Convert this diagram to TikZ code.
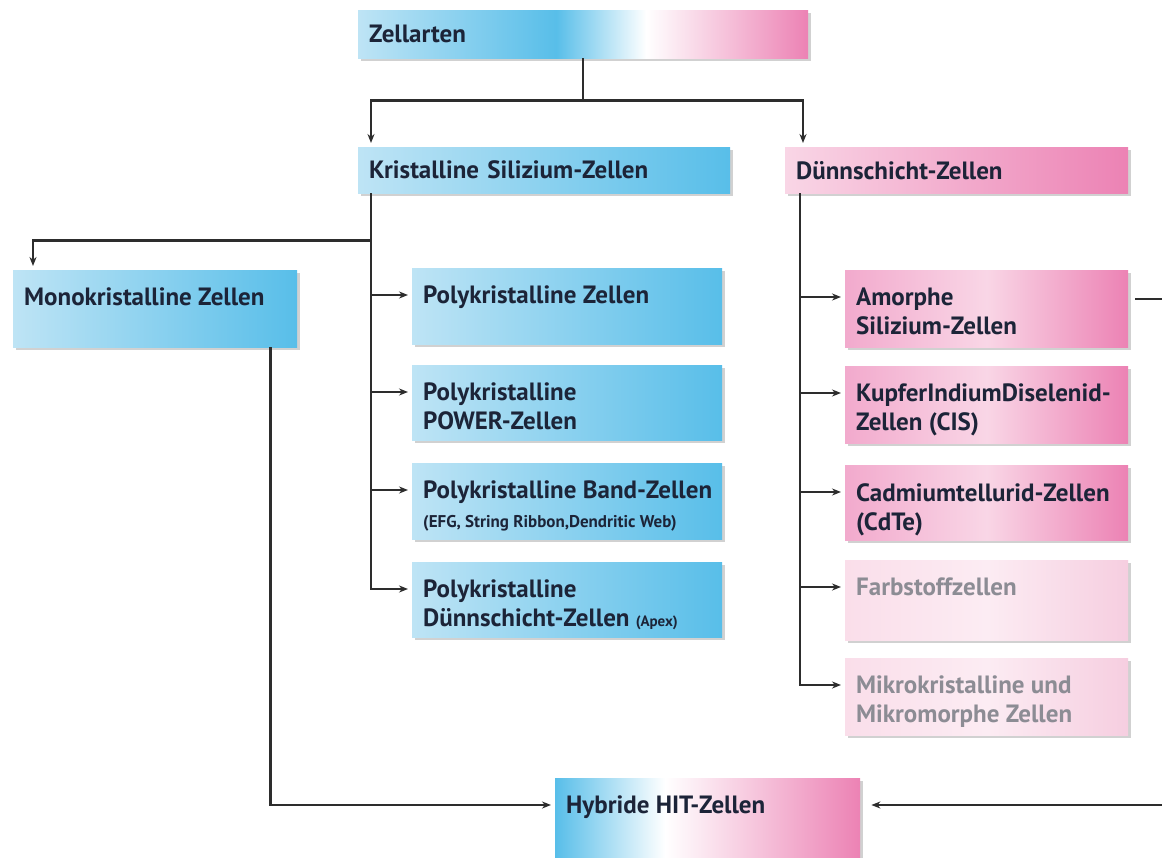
\documentclass[tikz,border=0pt]{standalone}
\usepackage{fontspec}
\setmainfont{PT Sans}
\usetikzlibrary{positioning, shadows, arrows.meta}

\definecolor{blueD}{RGB}{88,190,233}
\definecolor{blueL}{RGB}{190,228,245}
\definecolor{pinkD}{RGB}{236,130,180}
\definecolor{pinkM}{RGB}{242,170,205}
\definecolor{pinkL}{RGB}{249,214,230}
\definecolor{pinkF}{RGB}{250,222,234}
\definecolor{pinkG}{RGB}{246,206,224}
\definecolor{pinkH}{RGB}{252,236,243}
\definecolor{ink}{RGB}{28,36,56}
\definecolor{fade}{RGB}{140,140,148}
\definecolor{wirec}{RGB}{45,45,45}

% the path is mapped onto the 25bp--75bp part of a shading
\pgfdeclarehorizontalshading{zellshade}{100bp}{color(0bp)=(blueL); color(25bp)=(blueL); color(47bp)=(blueD); color(57bp)=(white); color(75bp)=(pinkD); color(100bp)=(pinkD)}
\pgfdeclarehorizontalshading{hitshade}{100bp}{color(0bp)=(blueD); color(25bp)=(blueD); color(43bp)=(white); color(75bp)=(pinkD); color(100bp)=(pinkD)}

\newcommand{\celltop}[3]{\parbox[t][#2][t]{#1}{\raggedright #3}}

\begin{document}
\begin{tikzpicture}[
        x=1pt, y=-1pt,
        >={Stealth[length=9pt,width=7pt]},
        wire/.style={draw=wirec, line width=2.4pt},
        cell/.style={anchor=north west, inner xsep=11pt, inner ysep=18pt, text=ink,
            font=\bfseries\fontsize{25}{29}\selectfont,
            drop shadow={shadow xshift=2.5pt, shadow yshift=-2.5pt, opacity=.4, fill=black!45}},
        onecell/.style={inner ysep=2pt, align=left},
        headcell/.style={cell, onecell, shading=zellshade},
        bluecell/.style={cell, left color=blueL, right color=blueD},
        pinkcell/.style={cell, left color=pinkM, right color=pinkD, middle color=pinkL},
        fadecell/.style={cell, text=fade, left color=pinkF, right color=pinkG, middle color=pinkH}]

        \useasboundingbox (0,0) rectangle (1162,858);
        \fill[white] (0,0) rectangle (1162,858);
        \clip (0,0) rectangle (1162,858);

        % top level
        \node[headcell, text width=428pt, minimum height=48pt] (zell) at (358,10) {Zellarten};
        \node[bluecell, onecell, text width=350pt, minimum height=46pt] (kris) at (358,147) {Kristalline Silizium-Zellen};
        \node[pinkcell, onecell, left color=pinkL, right color=pinkD, text width=321pt, minimum height=46pt] (thin) at (785,147) {Dünnschicht-Zellen};

        % crystalline
        \node[bluecell] (mono) at (13,270) {\celltop{262pt}{41pt}{Monokristalline Zellen}};
        \node[bluecell] (p1) at (412,268) {\celltop{288pt}{40pt}{Polykristalline Zellen}};
        \node[bluecell] (p2) at (412,365) {\celltop{288pt}{39pt}{Polykristalline\\POWER-Zellen}};
        \node[bluecell] (p3) at (412,463) {\celltop{288pt}{40pt}{\mbox{Polykristalline Band-Zellen}\\{\fontsize{17}{20}\selectfont (EFG, String Ribbon,Dendritic Web)}}};
        \node[bluecell] (p4) at (412,562) {\celltop{288pt}{39pt}{Polykristalline\\Dünnschicht-Zellen {\fontsize{15}{16}\selectfont (Apex)}}};

        % thin film
        \node[pinkcell] (amo) at (845,270) {\celltop{261pt}{41pt}{Amorphe\\Silizium-Zellen}};
        \node[pinkcell] (cis) at (845,366) {\celltop{261pt}{41pt}{KupferIndiumDiselenid-\\Zellen (CIS)}};
        \node[pinkcell] (cdte) at (845,465) {\celltop{261pt}{39pt}{Cadmiumtellurid-Zellen\\(CdTe)}};
        \node[fadecell] (dye) at (845,560) {\celltop{261pt}{44pt}{Farbstoffzellen}};
        \node[fadecell] (micro) at (845,658) {\celltop{261pt}{41pt}{Mikrokristalline und\\Mikromorphe Zellen}};

        \node[cell, shading=hitshade] (hyb) at (555,778) {\celltop{283pt}{60pt}{Hybride HIT-Zellen}};

        % connectors
        \draw[wire] (zell.south) -- ++(0,42) coordinate (zj);
        \draw[wire,->,shorten >=4pt] (zj) -| ([xshift=13pt]kris.north west);
        \draw[wire,->,shorten >=4pt] (zj) -| ([xshift=18pt]thin.north west);

        \coordinate (ks) at ([xshift=13pt]kris.south west);
        \draw[wire,->,shorten >=4pt] ([yshift=-47pt]ks) -| ([xshift=20pt]mono.north west);
        \foreach \n in {p1,p2,p3,p4}
            \coordinate (\n-in) at ([yshift=-27pt]\n.north west);
        \foreach \n in {p1,p2,p3}
            \draw[wire,->,shorten >=4pt] (ks |- \n-in) -- (\n-in);
        \draw[wire,->,shorten >=4pt] (ks) |- (p4-in);

        \coordinate (ds) at ([xshift=15pt]thin.south west);
        \foreach \n in {amo,cis,cdte,dye,micro}
            \coordinate (\n-in) at ([yshift=-27pt]\n.north west);
        \foreach \n in {amo,cis,cdte,dye}
            \draw[wire,->,shorten >=4pt] (ds |- \n-in) -- (\n-in);
        \draw[wire,->,shorten >=4pt] (ds) |- (micro-in);

        \draw[wire,->,shorten >=4pt] ([xshift=-27pt]mono.south east) |- ([yshift=-27pt]hyb.north west);
        \draw[wire,->,shorten >=11pt] ([shift={(7pt,-29pt)}]amo.north east) -- ++(60,0) |- ([yshift=-27pt]hyb.north east);

    \end{tikzpicture}
\end{document}
